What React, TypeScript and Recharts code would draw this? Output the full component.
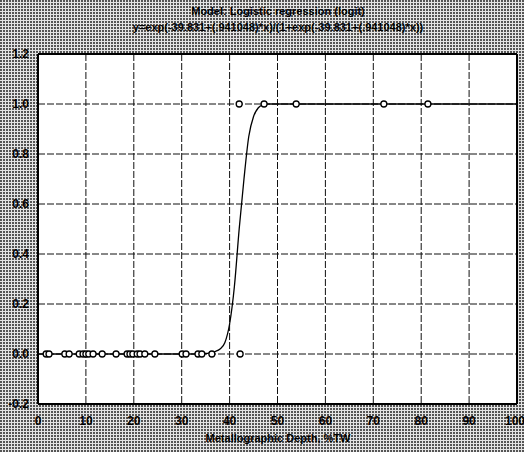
import { ComposedChart, Line, Scatter, XAxis, YAxis, CartesianGrid, ReferenceLine } from 'recharts';

// observed cases: depth (%TW) vs outcome (0/1)
const zeroDepths = [1.7, 2.3, 5.6, 6.5, 8.6, 9.4, 10.0, 10.6, 11.5, 13.4, 16.3, 18.6, 19.2, 19.8, 20.7, 21.3, 22.3, 24.4, 30.1, 30.9, 33.4, 34.2, 36.3, 42.2];
const oneDepths = [42.0, 47.2, 53.9, 72.2, 81.4];

// fitted curve
const curveX = [0, 10, 20, 30, 35, 36, 37, 38, 39, 40, 41, 42, 43, 44, 45, 46, 47, 48, 60, 80, 100];
const curveY = [0, 0, 0, 0, 0.002, 0.005, 0.01, 0.02, 0.045, 0.12, 0.27, 0.5, 0.7, 0.87, 0.95, 0.985, 0.997, 1, 1, 1, 1];

const xTicks = [0, 10, 20, 30, 40, 50, 60, 70, 80, 90, 100];
const yTicks = [-0.2, 0, 0.2, 0.4, 0.6, 0.8, 1.0, 1.2];

const points = [
  ...zeroDepths.map((x) => ({ x, y: 0 })),
  ...oneDepths.map((x) => ({ x, y: 1 })),
];
const curve = curveX.map((x, i) => ({ x, y: curveY[i] }));

const font = '"Liberation Sans Narrow", "Arial Narrow", "Liberation Sans", sans-serif';
const tickStyle = { fill: '#000', fontSize: 12, fontFamily: font, fontWeight: 700 };

const OpenCircle = (props: any) => {
  const { cx, cy } = props;
  return <circle cx={cx} cy={cy} r={3} fill="#fff" stroke="#000" strokeWidth={1.3} />;
};

export default function App() {
  return (
    <div
      style={{
        position: 'absolute',
        left: 0,
        top: 0,
        width: 524,
        height: 452,
        backgroundColor: '#e4e4e4',
        backgroundImage: 'radial-gradient(circle at 1px 1px, #555 0.9px, transparent 1.3px)',
        backgroundSize: '3px 3px',
        fontFamily: font,
      }}
    >
      <div style={{ position: 'absolute', top: 5, left: 0, width: 556, textAlign: 'center', fontSize: 11, fontWeight: 700 }}>
        Model: Logistic regression (logit)
      </div>
      <div style={{ position: 'absolute', top: 21, left: 0, width: 556, textAlign: 'center', fontSize: 11, fontWeight: 700 }}>
        y=exp(-39.831+(.941048)*x)/(1+exp(-39.831+(.941048)*x))
      </div>
      <ComposedChart
        width={524}
        height={452}
        margin={{ top: 54, right: 7, left: 8, bottom: 28 }}
        style={{ position: 'absolute', left: 0, top: 0 }}
      >
        <CartesianGrid fill="#fff" stroke="#111" strokeDasharray="7 2" />
        <XAxis
          dataKey="x"
          type="number"
          domain={[0, 100]}
          ticks={xTicks}
          tick={tickStyle}
          tickLine={false}
          tickMargin={6}
          height={20}
          axisLine={{ stroke: '#000', strokeWidth: 2 }}
          allowDataOverflow
        />
        <YAxis
          type="number"
          domain={[-0.2, 1.2]}
          ticks={yTicks}
          tick={tickStyle}
          tickLine={false}
          tickMargin={3}
          width={30}
          tickFormatter={(v: number) => v.toFixed(1)}
          axisLine={{ stroke: '#000', strokeWidth: 2 }}
          allowDataOverflow
        />
        <ReferenceLine y={1.2} stroke="#000" strokeWidth={2} />
        <ReferenceLine x={100} stroke="#000" strokeWidth={2} />
        <Line
          data={curve}
          dataKey="y"
          type="monotone"
          stroke="#000"
          strokeWidth={1.3}
          dot={false}
          isAnimationActive={false}
        />
        <Scatter data={points} dataKey="y" shape={OpenCircle} isAnimationActive={false} />
      </ComposedChart>
      <div style={{ position: 'absolute', top: 432, left: 0, width: 556, textAlign: 'center', fontSize: 11, fontWeight: 700 }}>
        Metallographic Depth, %TW
      </div>
    </div>
  );
}
